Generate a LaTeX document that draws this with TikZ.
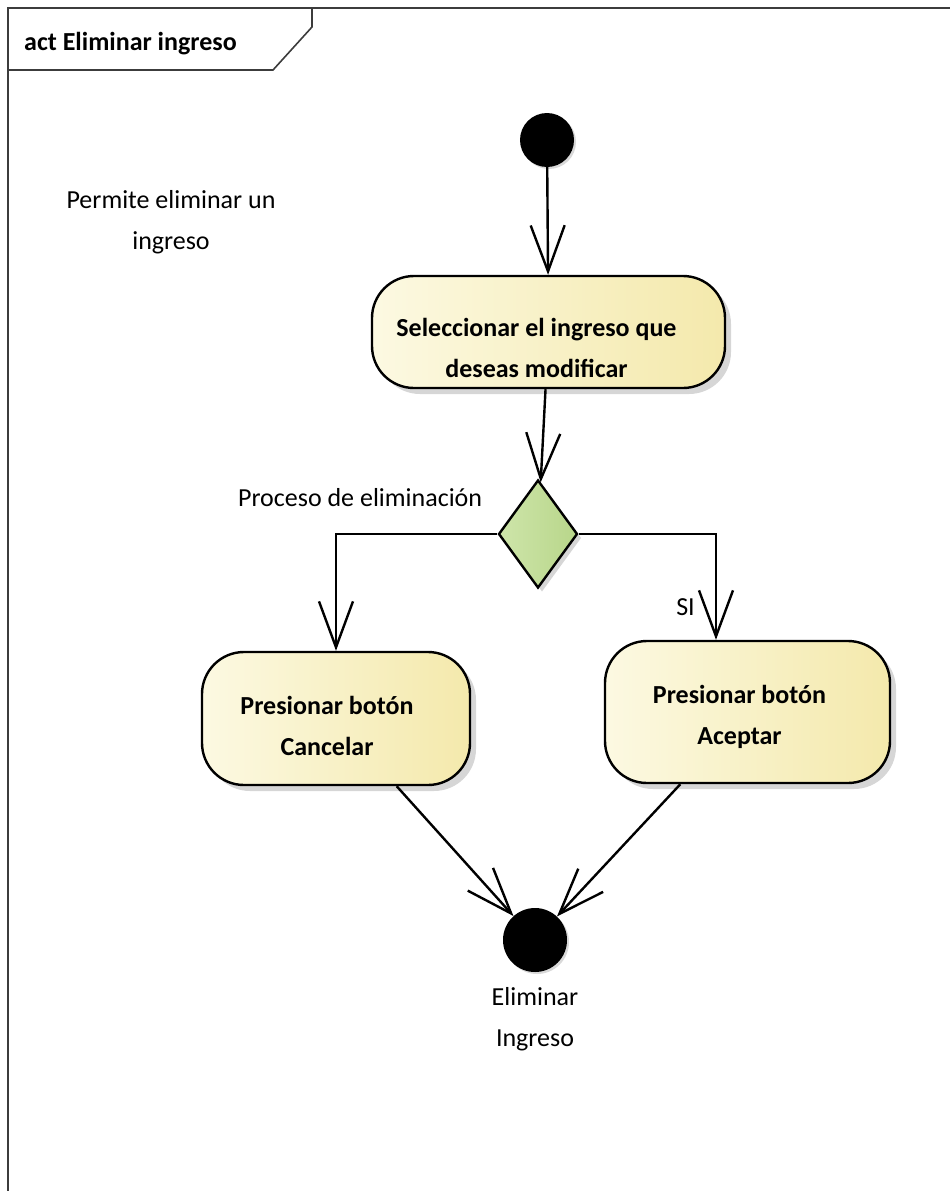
\documentclass[tikz,border=0pt]{standalone}
\usepackage{fontspec}
\setmainfont{Carlito}
\usepackage{tikz}
\usetikzlibrary{shapes.geometric, arrows.meta, positioning, calc, shadows}
\definecolor{actleft}{RGB}{252, 249, 226}
\definecolor{actright}{RGB}{244, 233, 172}
\definecolor{decleft}{RGB}{206, 229, 170}
\definecolor{decright}{RGB}{184, 214, 138}
\definecolor{framegray}{RGB}{60, 60, 60}

\tikzset{
    umlfont/.style={font=\fontsize{26}{41}\selectfont},
    umlshadow/.style={drop shadow={fill=black!16, opacity=1, shadow xshift=6pt, shadow yshift=-6pt}},
    actbox/.style={rectangle, rounded corners=42pt, draw=black, line width=2.4pt,
                   left color=actleft, right color=actright, umlshadow, inner sep=0pt},
    acttext/.style={umlfont, font=\fontsize{26}{41}\selectfont\bfseries, align=center, inner sep=0pt},
    decision/.style={diamond, draw=black, line width=2.4pt, left color=decleft, right color=decright,
                     inner sep=0pt, minimum width=79pt, minimum height=108pt,
                     drop shadow={fill=black!16, opacity=1, shadow xshift=4pt, shadow yshift=-4pt}},
    initnode/.style={circle, fill=black, inner sep=0pt, minimum size=54pt,
                     drop shadow={fill=black!15, opacity=1, shadow xshift=2pt, shadow yshift=-2pt}},
    finalnode/.style={circle, fill=black, inner sep=0pt, minimum size=64pt,
                      drop shadow={fill=black!15, opacity=1, shadow xshift=2pt, shadow yshift=-2pt}},
    flow/.style={draw=black, line width=2.4pt,
                 -{Straight Barb[length=46pt, width=34pt, line width=2.4pt]}},
    plaintext/.style={umlfont, align=center, inner sep=0pt}
}

\begin{document}
\begin{tikzpicture}[x=1pt, y=-1pt]
    \useasboundingbox (0,0) rectangle (950,1191);

    % Frame with title tab
    \draw[framegray, line width=2pt] (8,1200) -- (8,8) -- (960,8);
    \draw[framegray, line width=1.6pt] (8,70) -- (273,70) -- (312,27) -- (312,8);
    \node[umlfont, font=\fontsize{26}{41}\selectfont\bfseries, anchor=west, inner sep=0pt] (title) at (24,44) {act Eliminar ingreso};

    % Note
    \node[plaintext] (note) at (171,222) {Permite eliminar un\\ingreso};

    % Activity nodes
    \node[initnode] (start) at (547,140) {};
    \node[actbox, minimum width=353pt, minimum height=112pt] (select) at (548.5,332) {};
    \node[acttext] (selecttxt) at ([shift={(-12pt,-16pt)}]select.center) {Seleccionar el ingreso que\\deseas modificar};
    \node[decision] (proc) at (538,534) {};
    \node[plaintext, anchor=east] (proclbl) at ([shift={(-15pt,36pt)}]proc.west) {Proceso de eliminación};
    \node[actbox, minimum width=268pt, minimum height=133pt] (cancel) at (336,718.5) {};
    \node[acttext] (canceltxt) at ([shift={(-9pt,-7pt)}]cancel.center) {Presionar botón\\Cancelar};
    \node[actbox, minimum width=285pt, minimum height=142pt] (accept) at (747.5,712) {};
    \node[acttext] (accepttxt) at ([shift={(-8pt,-5pt)}]accept.center) {Presionar botón\\Aceptar};
    \node[finalnode] (final) at (535,940) {};
    \node[plaintext] (finallbl) at (535,1019) {Eliminar\\Ingreso};

    % Control flows
    \draw[flow] (start) -- (select);
    \draw[flow] (select) -- (proc);
    \draw[flow] (proc.west) -| (cancel.north);
    \draw[flow] (proc.east) -| ([xshift=-31.5pt]accept.north)
        node[plaintext, pos=0.845, left=20pt] (silbl) {SI};
    \draw[flow] (cancel) -- (final);
    \draw[flow] (accept) -- (final);
\end{tikzpicture}
\end{document}
